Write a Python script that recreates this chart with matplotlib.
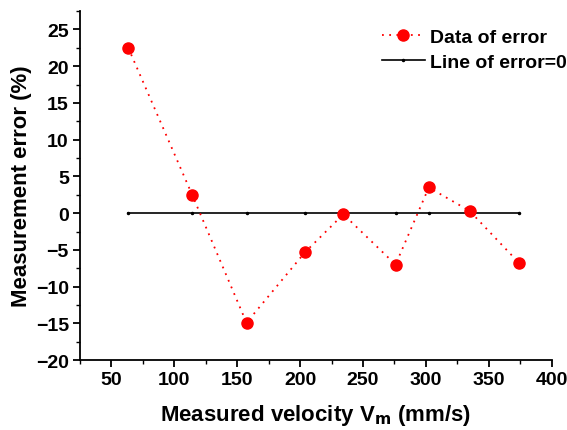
import numpy as np
import matplotlib.pyplot as plt
from matplotlib.ticker import MultipleLocator

plt.rcParams['font.family'] = ['Liberation Sans', 'DejaVu Sans']
plt.rcParams['font.weight'] = 'bold'
plt.rcParams['mathtext.default'] = 'bf'

# measured velocity (mm/s) and measurement error (%)
velocity = [63.4, 114.2, 157.4, 204.0, 234.4, 275.9, 302.3, 334.8, 374.2]
error = [22.5, 2.5, -14.9, -5.3, -0.15, -7.0, 3.5, 0.3, -6.8]
zero_line = [0, 0, 0, 0, 0, 0, 0, 0, 0]

fig = plt.figure(figsize=(5.67, 4.31), dpi=100)
ax = fig.add_axes([0.141, 0.162, 0.832, 0.81])

ax.plot(velocity, error, linestyle=(0, (1, 3)), color='red', marker='o', markersize=8,
        linewidth=1.3, label='Data of error', zorder=3)
ax.plot(velocity, zero_line, '-', color='black', marker='o', markersize=1.5,
        linewidth=1.2, label='Line of error=0', zorder=2)

ax.set_xlim(25, 400)
ax.set_ylim(-20, 27.5)
ax.xaxis.set_major_locator(MultipleLocator(50))
ax.xaxis.set_minor_locator(MultipleLocator(25))
ax.yaxis.set_major_locator(MultipleLocator(5))
ax.yaxis.set_minor_locator(MultipleLocator(2.5))

ax.spines['top'].set_visible(False)
ax.spines['right'].set_visible(False)
ax.spines['left'].set_linewidth(1.3)
ax.spines['bottom'].set_linewidth(1.3)
ax.tick_params(which='major', direction='out', length=5, width=1.3, labelsize=14, pad=3)
ax.tick_params(which='minor', direction='out', length=3, width=1.0)
for lbl in ax.get_xticklabels() + ax.get_yticklabels():
    lbl.set_fontweight('bold')

ax.set_xlabel('Measured velocity V$_m$ (mm/s)', fontsize=16, fontweight='bold', labelpad=10)
ax.set_ylabel('Measurement error (%)', fontsize=16, fontweight='bold', labelpad=3)

ax.legend(loc='upper right', bbox_to_anchor=(1.07, 1.0), frameon=False,
          prop={'weight': 'bold', 'size': 14}, handlelength=2.2,
          handletextpad=0.3, labelspacing=0.35)

plt.savefig('out.png', dpi=100)
